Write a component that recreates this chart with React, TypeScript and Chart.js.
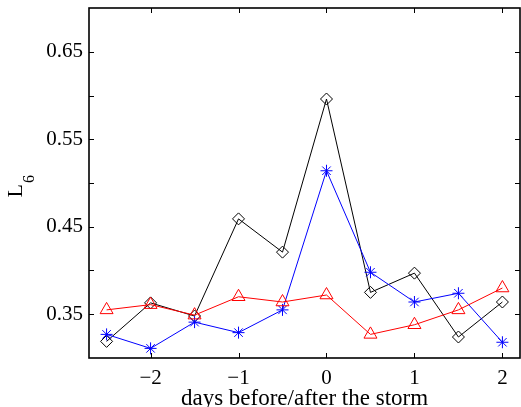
import React, { useEffect, useRef } from "react";
import { Chart, registerables } from "chart.js";

Chart.register(...registerables);

const xValues = [-2.5, -2, -1.5, -1, -0.5, 0, 0.5, 1, 1.5, 2];
const blackDiamond = [0.319, 0.363, 0.348, 0.459, 0.421, 0.596, 0.375, 0.397, 0.324, 0.364];
const blueStar = [0.327, 0.311, 0.341, 0.329, 0.355, 0.514, 0.398, 0.364, 0.374, 0.318];
const redTriangle = [0.355, 0.361, 0.349, 0.37, 0.364, 0.372, 0.327, 0.338, 0.355, 0.38];

const xTicks = [-2, -1, 0, 1, 2];
const xTickLabels = ["\u22122", "\u22121", "0", "1", "2"];
const yTicks = [0.35, 0.4, 0.45, 0.5, 0.55, 0.6, 0.65];
const yTickLabels = ["0.35", "", "0.45", "", "0.55", "", "0.65"];
const xTitle = "days before/after the storm";
const yTitleMain = "L";
const yTitleSub = "6";

const FONT = "'Liberation Serif', 'Times New Roman', serif";

const boxPlugin = {
  id: "boxTicks",
  afterDatasetsDraw(chart: any) {
    const { ctx, chartArea } = chart;
    const { left, right, top, bottom } = chartArea;
    const xs = chart.scales.x;
    const ys = chart.scales.y;
    ctx.save();
    ctx.strokeStyle = "#000";
    ctx.lineWidth = 1;
    const tl = 5;
    ctx.beginPath();
    xTicks.forEach((v) => {
      const px = Math.round(xs.getPixelForValue(v)) + 0.5;
      ctx.moveTo(px, bottom);
      ctx.lineTo(px, bottom - tl);
      ctx.moveTo(px, top);
      ctx.lineTo(px, top + tl);
    });
    yTicks.forEach((v) => {
      const py = Math.round(ys.getPixelForValue(v)) + 0.5;
      ctx.moveTo(left, py);
      ctx.lineTo(left + tl, py);
      ctx.moveTo(right, py);
      ctx.lineTo(right - tl, py);
    });
    ctx.stroke();
    ctx.lineWidth = 1.6;
    ctx.strokeRect(left, top, right - left, bottom - top);
    ctx.fillStyle = "#000";
    // x title
    ctx.textBaseline = "alphabetic";
    ctx.textAlign = "center";
    ctx.font = `23px ${FONT}`;
    ctx.fillText(xTitle, (left + right) / 2, 405);
    // y title with subscript
    ctx.translate(21.5, 197.5);
    ctx.rotate(-Math.PI / 2);
    ctx.textAlign = "left";
    ctx.font = `22px ${FONT}`;
    const w = ctx.measureText(yTitleMain).width;
    ctx.fillText(yTitleMain, 0, 0);
    ctx.font = `16px ${FONT}`;
    ctx.fillText(yTitleSub, w + 1, 12);
    ctx.restore();
  },
};

export default function App() {
  const ref = useRef<HTMLCanvasElement | null>(null);
  useEffect(() => {
    if (!ref.current) return;
    const ds = (label: string, data: number[], color: string, style: string, radius: number) => ({
      label,
      data: xValues.map((x, i) => ({ x, y: data[i] })),
      borderColor: color,
      backgroundColor: color,
      borderWidth: 1,
      pointStyle: style,
      pointRadius: radius,
      pointBorderColor: color,
      pointBackgroundColor: "rgba(0,0,0,0)",
      pointBorderWidth: 1,
      tension: 0,
      fill: false,
      clip: false,
    });
    const chart = new Chart(ref.current, {
      type: "line",
      data: {
        datasets: [
          ds("red", redTriangle, "#ff0000", "triangle", 7.5),
          ds("blue", blueStar, "#0000ff", "star", 6),
          ds("black", blackDiamond, "#000000", "rectRot", 6),
        ],
      },
      options: {
        animation: false,
        responsive: false,
        events: [],
        layout: { autoPadding: false, padding: { top: 8, right: 1, left: 0, bottom: 0 } },
        plugins: { legend: { display: false }, tooltip: { enabled: false } },
        scales: {
          x: {
            type: "linear",
            min: -2.7,
            max: 2.2,
            afterBuildTicks: (s: any) => {
              s.ticks = xTicks.map((v) => ({ value: v }));
            },
            afterFit: (s: any) => {
              s.height = 49;
              s.paddingLeft = 0;
              s.paddingRight = 0;
            },
            grid: { display: false, drawTicks: false },
            border: { display: false },
            ticks: {
              padding: 8,
              color: "#000",
              font: { family: FONT, size: 21 },
              maxRotation: 0,
              autoSkip: false,
              callback: (v: any) => {
                const i = xTicks.indexOf(Number(v));
                return i >= 0 ? xTickLabels[i] : "";
              },
            },
          },
          y: {
            type: "linear",
            min: 0.3,
            max: 0.7,
            afterBuildTicks: (s: any) => {
              s.ticks = yTicks.map((v) => ({ value: v }));
            },
            afterFit: (s: any) => {
              s.width = 89;
              s.paddingTop = 0;
              s.paddingBottom = 0;
            },
            grid: { display: false, drawTicks: false },
            border: { display: false },
            ticks: {
              padding: 6,
              color: "#000",
              font: { family: FONT, size: 21 },
              autoSkip: false,
              callback: (v: any) => {
                const i = yTicks.findIndex((t) => Math.abs(t - Number(v)) < 1e-6);
                return i >= 0 ? yTickLabels[i] : "";
              },
            },
          },
        },
      },
      plugins: [boxPlugin],
    } as any);
    return () => chart.destroy();
  }, []);
  return (
    <div style={{ position: "absolute", left: 0, top: 0, width: 521, height: 407, background: "#fff" }}>
      <canvas ref={ref} width={521} height={407} />
    </div>
  );
}
